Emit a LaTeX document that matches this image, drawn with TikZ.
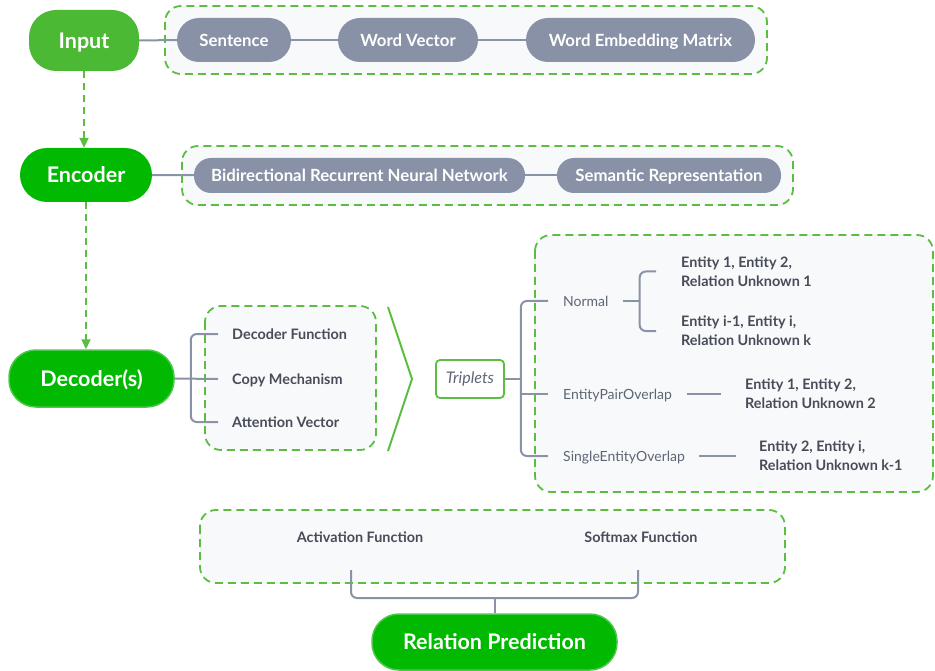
\documentclass[tikz,border=0pt]{standalone}
\usepackage{fontspec}
\setmainfont{Lato}
\usetikzlibrary{arrows.meta,calc,positioning}

\definecolor{dashgreen}{HTML}{5BBE41}
\definecolor{inputgreen}{HTML}{4BB934}
\definecolor{stagegreen}{HTML}{00B900}
\definecolor{stageedge}{HTML}{4CC74C}
\definecolor{pillgrey}{HTML}{8891A5}
\definecolor{linegrey}{HTML}{8A93A6}
\definecolor{boxfill}{HTML}{F7F9FB}
\definecolor{itemdark}{HTML}{474C58}
\definecolor{kindgrey}{HTML}{5E6574}

\begin{document}
\begin{tikzpicture}[x=1pt,y=-1pt,
    stage/.style={rounded corners=27pt, fill=stagegreen, text=white, inner sep=0pt,
        text height=15.5pt, text depth=0pt,
        font=\fontsize{21.5}{24}\selectfont\bfseries},
    pill/.style={fill=pillgrey, text=white, inner sep=0pt,
        text height=12.1pt, text depth=0pt,
        font=\fontsize{16.8}{18}\selectfont\bfseries},
    groupbox/.style={draw=dashgreen, fill=boxfill, line width=1.8pt,
        dash pattern=on 8pt off 5pt, rounded corners=16pt},
    conn/.style={draw=linegrey, line width=2pt},
    flow/.style={draw=dashgreen, line width=2pt, dash pattern=on 7pt off 5pt,
        -{Triangle[length=10pt,width=9pt]}},
    item/.style={anchor=west, inner sep=0pt, text=itemdark,
        text height=10.4pt, text depth=0pt,
        font=\fontsize{14.4}{19}\selectfont\bfseries},
    entity/.style={item, align=left, text height=29.4pt},
    kind/.style={anchor=west, inner sep=0pt, text=kindgrey,
        text height=10.1pt, text depth=0pt,
        font=\fontsize{14}{16}\selectfont},
]
    \useasboundingbox (0,0) rectangle (935,671);

    % Group boxes
    \draw[groupbox] (165,6) rectangle (767,74);
    \draw[groupbox] (182,146) rectangle (793,205);
    \draw[groupbox] (205,306) rectangle (376,450);
    \draw[groupbox] (535,235) rectangle (933,492);
    \draw[groupbox] (200,510) rectangle (785,583);

    % Stages
    \node[stage, fill=inputgreen, minimum width=110pt, minimum height=61pt] (input) at (84,40.5) {Input};
    \node[stage, minimum width=132pt, minimum height=54pt] (encoder) at (86,175) {Encoder};
    \node[stage, draw=stageedge, line width=1.5pt, minimum width=165pt, minimum height=57pt] (decoder) at (91.5,378.5) {Decoder(s)};
    \node[stage, draw=stageedge, line width=1.5pt, minimum width=245pt, minimum height=56pt] (relation) at (494.5,642) {Relation Prediction};

    % Input row
    \node[pill, rounded corners=22pt, minimum width=114pt, minimum height=44pt] (sentence) at (234,40) {Sentence};
    \node[pill, rounded corners=22pt, minimum width=140pt, minimum height=44pt] (wordvec) at (408,40) {Word Vector};
    \node[pill, rounded corners=22pt, minimum width=229pt, minimum height=44pt] (embmatrix) at (640.5,40) {Word Embedding Matrix};
    \draw[conn] (input) -- (sentence);
    \draw[conn] (sentence) -- (wordvec);
    \draw[conn] (wordvec) -- (embmatrix);

    % Encoder row
    \node[pill, rounded corners=17pt, minimum width=331pt, minimum height=35pt] (birnn) at (359.5,175.5) {Bidirectional Recurrent Neural Network};
    \node[pill, rounded corners=17pt, minimum width=224pt, minimum height=35pt] (semrep) at (669,175.5) {Semantic Representation};
    \draw[conn] (encoder) -- (birnn);
    \draw[conn] (birnn) -- (semrep);

    % Flow arrows
    \draw[flow] (input.south) -- (input.south |- encoder.north);
    \draw[flow] (encoder.south) -- (encoder.south |- decoder.north);

    % Decoder parts
    \node[item] (decfunc) at (232,334) {Decoder Function};
    \node[item] (copymech) at (232,379) {Copy Mechanism};
    \node[item] (attvec) at (232,422) {Attention Vector};
    \draw[conn, rounded corners=6pt] ($(decfunc.west)+(-14,0)$) -| ($(decoder.east)+(16,0)$) |- ($(attvec.west)+(-14,0)$);
    \draw[conn] (decoder.east) -- ($(copymech.west)+(-14,0)$);

    % Chevron
    \draw[dashgreen, line width=2pt] (388,307) -- (412,379) -- (388,451);

    % Triplets
    \node[draw=dashgreen, line width=1.8pt, rounded corners=4pt, inner sep=0pt,
        minimum width=68pt, minimum height=38pt, text=kindgrey,
        font=\fontsize{16}{18}\selectfont\itshape] (triplets) at (470,379) {Triplets};
    \node[kind] (normal) at (563,301) {Normal};
    \node[kind] (pairov) at (563,394) {EntityPairOverlap};
    \node[kind] (singleov) at (563,456) {SingleEntityOverlap};
    \draw[conn, rounded corners=6pt] ($(normal.west)+(-15,0)$) -| ($(triplets.east)+(16,0)$) |- ($(singleov.west)+(-15,0)$);
    \draw[conn] (triplets.east) -- ($(triplets.east)+(16,0)$);
    \draw[conn] ($(pairov.west)+(-43,0)$) -- ($(pairov.west)+(-15,0)$);

    % Relation triples
    \node[entity] (normtop) at (681,271.5) {Entity 1, Entity 2,\\Relation Unknown 1};
    \node[entity] (normbot) at (681,331) {Entity i-1, Entity i,\\Relation Unknown k};
    \node[entity] (pairent) at (745,394) {Entity 1, Entity 2,\\Relation Unknown 2};
    \node[entity] (singleent) at (759,456) {Entity 2, Entity i,\\Relation Unknown k-1};
    \draw[conn, rounded corners=6pt] ($(normtop.west)+(-25,0)$) -| ($(normal.east)+(31,0)$) |- ($(normbot.west)+(-25,0)$);
    \draw[conn] ($(normal.east)+(14,0)$) -- ($(normal.east)+(31,0)$);
    \draw[conn] ($(pairov.east)+(15,0)$) -- ($(pairent.west)+(-24,0)$);
    \draw[conn] ($(singleov.east)+(14,0)$) -- ($(singleent.west)+(-23,0)$);

    % Output layer
    \node[item, anchor=center] (actfunc) at (360,537) {Activation Function};
    \node[item, anchor=center] (softfunc) at (641,537) {Softmax Function};
    \coordinate (actfoot) at (351,570);
    \coordinate (softfoot) at (638,570);
    \coordinate (join) at (494.5,598);
    \draw[conn, rounded corners=6pt] (actfoot) |- (join) -| (softfoot);
    \draw[conn] (join) -- (relation.north);
\end{tikzpicture}
\end{document}
